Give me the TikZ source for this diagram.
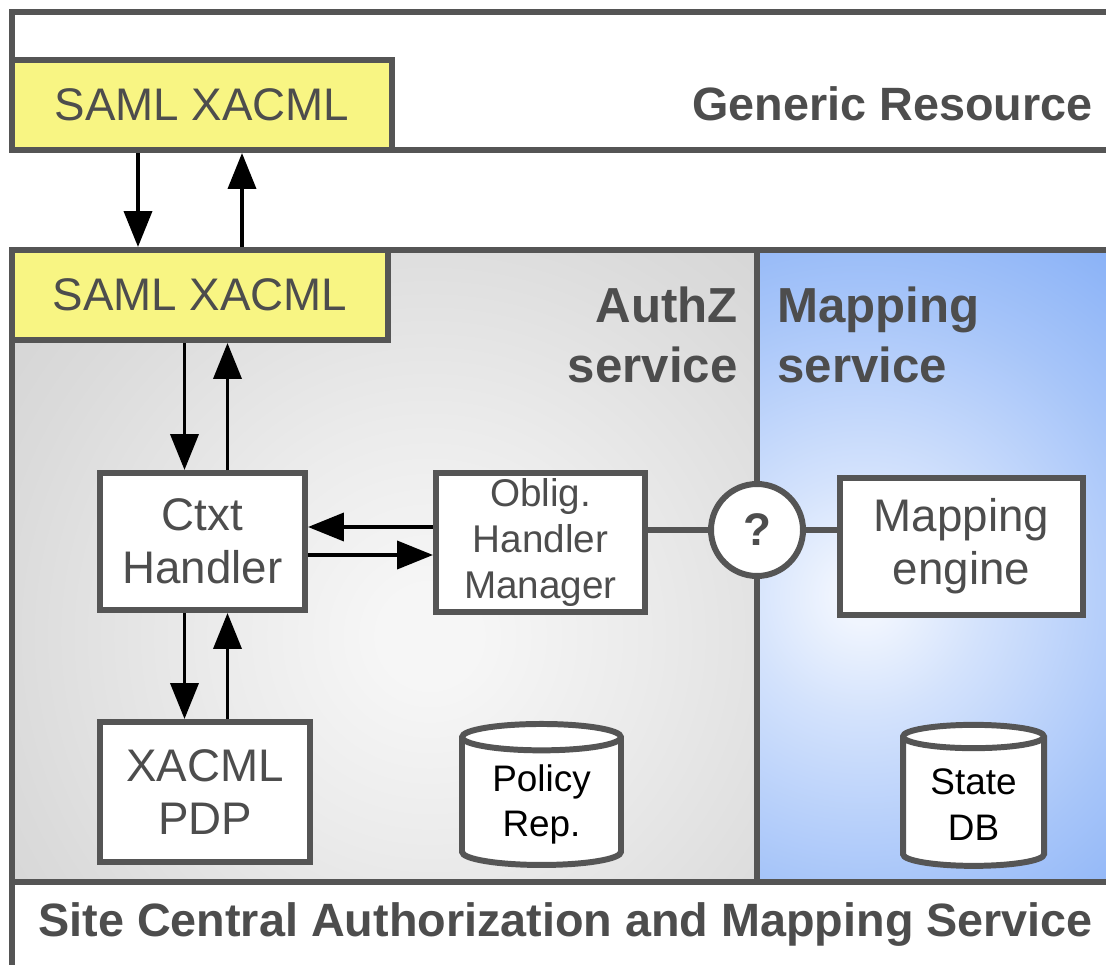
\documentclass[tikz,border=0pt]{standalone}
\usepackage{fontspec}
\setmainfont{Liberation Sans}
\usetikzlibrary{arrows.meta,shapes.geometric}

\definecolor{framegray}{HTML}{555555}
\definecolor{textgray}{HTML}{4D4D4D}
\definecolor{samlyellow}{HTML}{F8F583}
\definecolor{authzlight}{HTML}{F6F6F6}
\definecolor{authzdark}{HTML}{CACACA}
\definecolor{maplight}{HTML}{F0F5FE}
\definecolor{mapdark}{HTML}{8AB2F7}

% soft glows for the two service areas
\pgfdeclareradialshading{authzglow}{\pgfpoint{0bp}{0bp}}{color(0bp)=(authzlight); color(2bp)=(authzlight);
  color(9bp)=(authzlight!75!authzdark); color(18bp)=(authzlight!38!authzdark); color(25bp)=(authzlight!15!authzdark);
  color(33bp)=(authzdark); color(50bp)=(authzdark)}
\pgfdeclareradialshading{mapglow}{\pgfpoint{0bp}{0bp}}{color(0bp)=(maplight); color(1.5bp)=(maplight);
  color(6.5bp)=(maplight!72!mapdark); color(16bp)=(maplight!28!mapdark); color(23bp)=(mapdark); color(50bp)=(mapdark)}

\begin{document}
\begin{tikzpicture}[x=1cm, y=-1cm,
    frame/.style={rectangle, draw=framegray, line width=1.7pt, fill=white},
    region/.style={rectangle, draw=framegray, line width=1.7pt},
    saml/.style={rectangle, draw=framegray, line width=1.7pt, fill=samlyellow,
                 minimum width=3.8cm, minimum height=0.9cm, font=\fontsize{13}{15}\selectfont, text=textgray},
    box/.style={rectangle, draw=framegray, line width=1.7pt, fill=white, align=center,
                inner sep=2pt, font=\fontsize{13}{15}\selectfont, text=textgray},
    store/.style={cylinder, shape border rotate=90, aspect=0.25, draw=framegray, line width=1.7pt,
                  fill=white, align=center, inner sep=1pt, font=\fontsize{10.5}{13}\selectfont, text=black},
    lbl/.style={font=\bfseries\fontsize{13.3}{15}\selectfont, text=textgray},
    svc/.style={font=\bfseries\fontsize{14}{17}\selectfont, text=textgray},
    arr/.style={-{Triangle[length=0.36cm, width=0.28cm]}, line width=1.1pt},
  ]

  \useasboundingbox (0,0) rectangle (11.06,9.65);
  \clip (0,0) rectangle (11.06,9.65);

  % Generic resource
  \node[frame, minimum width=11.18cm, minimum height=1.38cm] (generic) at (5.71, 0.81) {};
  \node[lbl, anchor=east] (genlabel) at (11.05, 1.04) {Generic Resource};
  \node[saml] (samltop) at (2.02, 1.05) {SAML XACML};

  % Site service with its two parts
  \node[frame, minimum width=11.18cm, minimum height=7.5cm] (site) at (5.71, 6.25) {};
  \node[region, fill=authzdark, minimum width=7.45cm, minimum height=6.32cm,
        path picture={\shade[shading=authzglow]
          ([xshift=0.45cm, yshift=-0.70cm]path picture bounding box.center) circle (6.0);}] (authz) at (3.845, 5.66) {};
  \node[region, fill=mapdark, minimum width=3.73cm, minimum height=6.32cm,
        path picture={\shade[shading=mapglow]
          ([xshift=-0.80cm, yshift=-0.30cm]path picture bounding box.center) circle (4.6);}] (mapping) at (9.435, 5.66) {};
  \node[lbl, anchor=west] (sitelabel) at (0.26, 9.25) {Site Central Authorization and Mapping Service};

  \node[svc, align=right, anchor=east] (authzlabel) at (7.50, 3.35) {AuthZ\\service};
  \node[svc, align=left, anchor=west] (maplabel) at (7.65, 3.35) {Mapping\\service};

  \node[saml, minimum width=3.76cm] (samlmid) at (2.00, 2.95) {SAML XACML};

  % AuthZ parts
  \node[box, minimum width=2.05cm, minimum height=1.37cm] (ctxt) at (2.025, 5.415) {Ctxt\\Handler};
  \node[box, minimum width=2.09cm, minimum height=1.39cm, inner sep=0pt,
        font=\fontsize{11}{13.2}\selectfont] (oblig) at (5.405, 5.425) {Oblig.\\Handler\\Manager};
  \node[box, minimum width=2.10cm, minimum height=1.40cm] (pdp) at (2.05, 7.92) {XACML\\PDP};
  \node[store, minimum width=1.59cm, minimum height=1.41cm] (policy) at (5.415, 8.045) {Policy\\Rep.};

  % Mapping parts
  \node[circle, draw=framegray, line width=1.7pt, fill=white, minimum size=0.92cm, inner sep=0pt,
        font=\bfseries\fontsize{13}{15}\selectfont, text=textgray] (query) at (7.57, 5.30) {?};
  \node[box, minimum width=2.43cm, minimum height=1.37cm] (mapeng) at (9.615, 5.465) {Mapping\\engine};
  \node[store, minimum width=1.41cm, minimum height=1.41cm] (statedb) at (9.735, 8.045) {State\\DB};

  % request / response pairs
  \draw[arr] ([xshift=-0.64cm]samltop.south) -- ([xshift=-0.64cm]samltop.south |- samlmid.north);
  \draw[arr] ([xshift=0.40cm]samltop.south |- samlmid.north) -- ([xshift=0.40cm]samltop.south);
  \draw[arr] ([xshift=-0.18cm]ctxt.north |- samlmid.south) -- ([xshift=-0.18cm]ctxt.north);
  \draw[arr] ([xshift=0.25cm]ctxt.north) -- ([xshift=0.25cm]ctxt.north |- samlmid.south);
  \draw[arr] ([xshift=-0.18cm]ctxt.south) -- ([xshift=-0.18cm]ctxt.south |- pdp.north);
  \draw[arr] ([xshift=0.25cm]ctxt.south |- pdp.north) -- ([xshift=0.25cm]ctxt.south);
  \draw[arr] ([yshift=0.155cm]oblig.west) -- ([yshift=0.155cm]oblig.west -| ctxt.east);
  \draw[arr] ([yshift=-0.135cm]ctxt.east) -- ([yshift=-0.135cm]ctxt.east -| oblig.west);

  % link through the open question
  \draw[draw=framegray, line width=1.7pt] (query.west) -- (query.west -| oblig.east);
  \draw[draw=framegray, line width=1.7pt] (query.east) -- (query.east -| mapeng.west);

\end{tikzpicture}
\end{document}
